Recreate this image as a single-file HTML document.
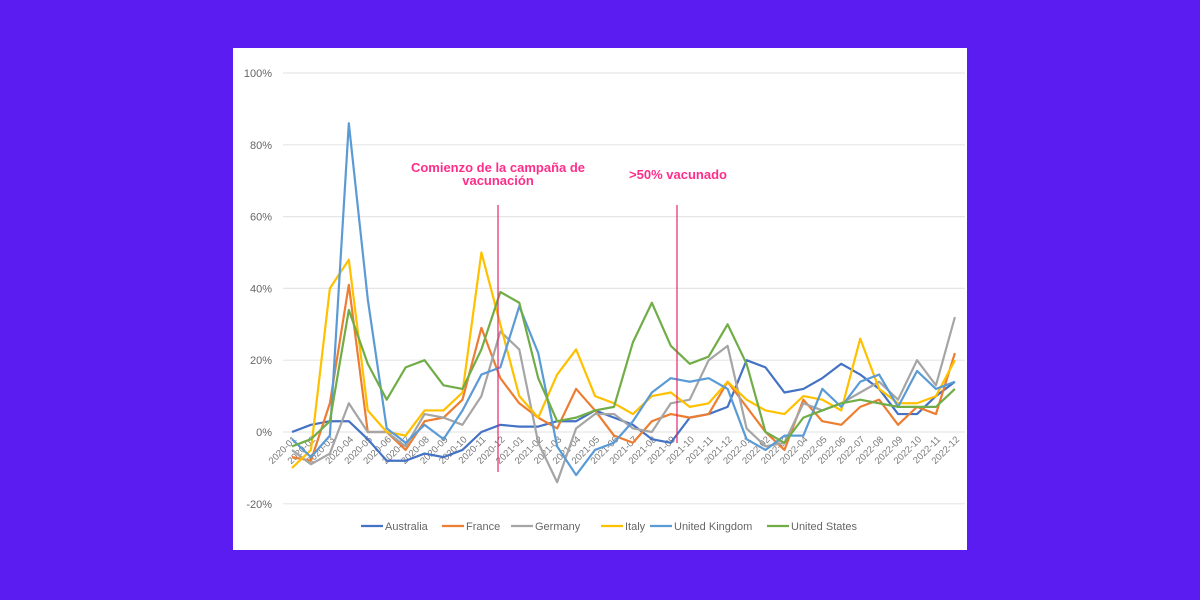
<!DOCTYPE html><html><head><style>body{margin:0;background:#5a1cf0;width:1200px;height:600px;overflow:hidden;font-family:"Liberation Sans",sans-serif}</style></head><body>
<svg width="1200" height="600" style="position:absolute;left:0;top:0">
<rect x="0" y="0" width="1200" height="600" fill="#5a1cf0"/>
<rect x="233" y="48" width="734" height="502" fill="#fff"/>
<g id="g"></g>
</svg>
<script>
const NS="http://www.w3.org/2000/svg",g=document.getElementById('g');
function el(t,a,txt){const e=document.createElementNS(NS,t);for(const k in a)e.setAttribute(k,a[k]);if(txt!==undefined)e.textContent=txt;g.appendChild(e);return e;}
const Y=v=>432-v*3.59,X=i=>292+i*18.94;
for(let v=-20;v<=100;v+=20){el('line',{x1:283,x2:965,y1:Y(v),y2:Y(v),stroke:'#e6e6e6','stroke-width':1.2});
el('text',{x:272,y:Y(v)+4,'text-anchor':'end','font-size':11,fill:'#666'},v+'%');}
const months=[];for(let y=2020;y<=2022;y++)for(let m=1;m<=12;m++)months.push(y+'-'+String(m).padStart(2,'0'));
months.forEach((m,i)=>{el('text',{x:X(i)+5,y:440,'text-anchor':'end','font-size':9.5,fill:'#777',transform:`rotate(-45 ${X(i)+5} 440)`},m);});
const S=[
['#4472c4',[0,2,3,3,-2,-8,-8,-6,-7,-5,0,2,1.5,1.5,3,3,6,4,2,-2,-3,4,5,7,20,18,11,12,15,19,16,12,5,5,10,14]],
['#ed7d31',[-7,-8,8,41,0,0,-5,3,4,9,29,15,8,4,1,12,6,-1,-3,3,5,4,5,14,7,0,-5,9,3,2,7,9,2,7,5,22]],
['#a5a5a5',[-5,-9,-6,8,0,0,-4,5,4,2,10,28,23,-3,-14,1,5,5,1,0,8,9,20,24,1,-4,-3,8,6,8,11,14,9,20,13,32]],
['#ffc000',[-10,-5,40,48,6,0,-1,6,6,11,50,30,10,4,16,23,10,8,5,10,11,7,8,14,9,6,5,10,9,6,26,12,8,8,10,20]],
['#5b9bd5',[-2,-7,-1,86,37,1,-3,2,-2,6,16,18,35,22,-4,-12,-5,-3,3,11,15,14,15,12,-2,-5,-1,-1,12,7,14,16,7,17,12,14]],
['#70ad47',[-4,-2,3,34,19,9,18,20,13,12,23,39,36,15,3,4,6,7,25,36,24,19,21,30,19,0,-3,4,6,8,9,8,7,7,7,12]]];
S.forEach(([c,d])=>el('polyline',{points:d.map((v,i)=>X(i)+','+Y(v)).join(' '),fill:'none',stroke:c,'stroke-width':2.2,'stroke-linejoin':'round'}));
el('line',{x1:498,x2:498,y1:205,y2:472,stroke:'#e8266f','stroke-width':1.2});
el('line',{x1:677,x2:677,y1:205,y2:443,stroke:'#e8266f','stroke-width':1.2});
el('text',{x:498,y:172,'text-anchor':'middle','font-size':13,'font-weight':'bold',fill:'#ff2d8a'},'Comienzo de la campaña de');
el('text',{x:498,y:185,'text-anchor':'middle','font-size':13,'font-weight':'bold',fill:'#ff2d8a'},'vacunación');
el('text',{x:678,y:179,'text-anchor':'middle','font-size':13,'font-weight':'bold',fill:'#ff2d8a'},'>50% vacunado');
const L=[['Australia',361],['France',442],['Germany',511],['Italy',601],['United Kingdom',650],['United States',767]];
L.forEach(([n,x],i)=>{el('line',{x1:x,x2:x+22,y1:526,y2:526,stroke:S[i][0],'stroke-width':2.2});el('text',{x:x+24,y:530,'font-size':11,fill:'#666'},n);});
</script>
</body></html>
